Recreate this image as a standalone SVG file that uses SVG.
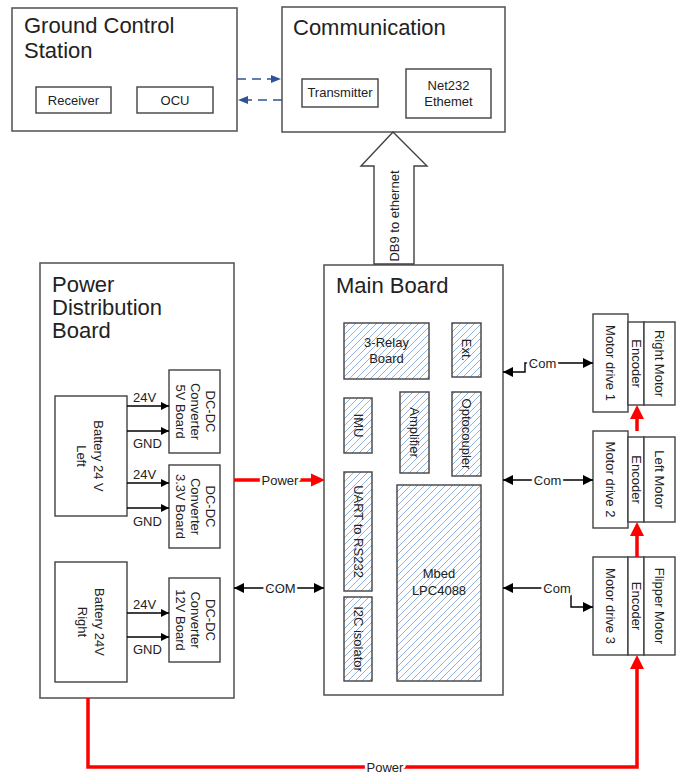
<svg xmlns="http://www.w3.org/2000/svg" width="679" height="774" viewBox="0 0 679 774">
<defs>
<pattern id="hatch" patternUnits="userSpaceOnUse" width="7" height="7">
<path d="M0,7 L7,0 M-1,1 L1,-1 M6,8 L8,6" stroke="#8fb2de" stroke-width="1"/>
</pattern>
<marker id="ah" viewBox="0 0 10 10" refX="10" refY="5" markerWidth="9" markerHeight="8" markerUnits="userSpaceOnUse" orient="auto-start-reverse"><path d="M0,0 L10,5 L0,10 z" fill="#000"/></marker>
<marker id="am" viewBox="0 0 10 10" refX="10" refY="5" markerWidth="11" markerHeight="10" markerUnits="userSpaceOnUse" orient="auto-start-reverse"><path d="M0,0 L10,5 L0,10 z" fill="#000"/></marker>
</defs>
<style>
text{font-family:"Liberation Sans",Arial,sans-serif;fill:#222}
.t{font-size:22px}
.s{font-size:13px}
.c{text-anchor:middle}
.r{text-anchor:middle;dominant-baseline:central}
.ob{fill:#fff;stroke:#5a5a5a;stroke-width:1.6}
.ib{fill:#fff;stroke:#404040;stroke-width:1.4}
.hb{fill:url(#hatch);stroke:#404040;stroke-width:1.4}
.bl{fill:none;stroke:#000;stroke-width:1.4}
.red{fill:none;stroke:#f00;stroke-width:3.5}
.lbl{stroke:#fff;stroke-width:5;paint-order:stroke;stroke-linejoin:round}
.dash{fill:none;stroke:#2f5496;stroke-width:1.5;stroke-dasharray:9,6}
</style>
<rect width="679" height="774" fill="#fff"/>

<g id="gcs">
<rect class="ob" x="12" y="8" width="225" height="123"/>
<text class="t" x="24" y="33">Ground Control</text>
<text class="t" x="24" y="58">Station</text>
<rect class="ib" x="36" y="87" width="75" height="26"/>
<text class="s c" x="73.5" y="105">Receiver</text>
<rect class="ib" x="137" y="87" width="76" height="26"/>
<text class="s c" x="175" y="105">OCU</text>
</g>

<g id="communication">
<rect class="ob" x="282" y="7" width="223" height="125"/>
<text class="t" x="293" y="35">Communication</text>
<rect class="ib" x="302" y="79" width="76" height="28"/>
<text class="s c" x="340" y="97">Transmitter</text>
<rect class="ib" x="406" y="69" width="85" height="49"/>
<text class="s c" x="448.5" y="90">Net232</text>
<text class="s c" x="448.5" y="106">Ethemet</text>
</g>

<g id="pdb">
<rect class="ob" x="40" y="263" width="194" height="435"/>
<text class="t" x="52" y="292">Power</text>
<text class="t" x="52" y="315">Distribution</text>
<text class="t" x="52" y="338">Board</text>
<g id="battery-left">
<rect class="ib" x="55" y="396" width="72" height="120"/>
<text class="s r" transform="translate(98,456) rotate(90)">Battery 24 V</text>
<text class="s r" transform="translate(81,456) rotate(90)">Left</text>
</g>
<g id="dcdc-5v">
<rect class="ib" x="169" y="370" width="51" height="83"/>
<text class="s r" transform="translate(210,411.5) rotate(90)">DC-DC</text>
<text class="s r" transform="translate(195,411.5) rotate(90)">Converter</text>
<text class="s r" transform="translate(180,411.5) rotate(90)">5V Board</text>
</g>
<g id="dcdc-33v">
<rect class="ib" x="169" y="465" width="51" height="83"/>
<text class="s r" transform="translate(210,506.5) rotate(90)">DC-DC</text>
<text class="s r" transform="translate(195,506.5) rotate(90)">Converter</text>
<text class="s r" transform="translate(180,506.5) rotate(90)">3.3V Board</text>
</g>
<g id="battery-right">
<rect class="ib" x="55" y="562" width="72" height="120"/>
<text class="s r" transform="translate(99,622) rotate(90)">Battery 24V</text>
<text class="s r" transform="translate(82,622) rotate(90)">Right</text>
</g>
<g id="dcdc-12v">
<rect class="ib" x="169" y="578" width="51" height="84"/>
<text class="s r" transform="translate(210,620) rotate(90)">DC-DC</text>
<text class="s r" transform="translate(195,620) rotate(90)">Converter</text>
<text class="s r" transform="translate(180,620) rotate(90)">12V Board</text>
</g>
</g>

<g id="mainboard">
<rect class="ob" x="324" y="265" width="179" height="430"/>
<text class="t" x="336" y="293">Main Board</text>
<g id="relay"><rect class="hb" x="344" y="323" width="85" height="56"/>
<text class="s c" x="386.5" y="347">3-Relay</text><text class="s c" x="386.5" y="363">Board</text></g>
<g id="ext"><rect class="hb" x="452" y="323" width="29" height="54"/>
<text class="s r" transform="translate(466.5,350) rotate(90)">Ext.</text></g>
<g id="imu"><rect class="hb" x="344" y="398" width="28" height="55"/>
<text class="s r" transform="translate(358,425.5) rotate(90)">IMU</text></g>
<g id="amplifier"><rect class="hb" x="400" y="392" width="29" height="81"/>
<text class="s r" transform="translate(414.5,432.5) rotate(90)">Amplifier</text></g>
<g id="optocoupler"><rect class="hb" x="452" y="392" width="29" height="84"/>
<text class="s r" transform="translate(466.5,434) rotate(90)">Optocoupler</text></g>
<g id="uart"><rect class="hb" x="344" y="472" width="28" height="119"/>
<text class="s r" transform="translate(358,531.5) rotate(90)">UART to RS232</text></g>
<g id="i2c"><rect class="hb" x="344" y="597" width="28" height="84"/>
<text class="s r" transform="translate(358,639) rotate(90)">I2C isolator</text></g>
<g id="mbed"><rect class="hb" x="397" y="485" width="84" height="196"/>
<text class="s c" x="439" y="578">Mbed</text><text class="s c" x="439" y="595">LPC4088</text></g>
</g>

<g id="motor1">
<rect class="ib" x="593" y="314" width="35" height="98"/>
<text class="s r" transform="translate(610.5,363) rotate(90)">Motor drive 1</text>
<rect class="ib" x="628" y="322" width="16" height="83"/>
<text class="s r" transform="translate(636,363.5) rotate(90)">Encoder</text>
<rect class="ib" x="644" y="322" width="31" height="83"/>
<text class="s r" transform="translate(659.5,363.5) rotate(90)">Right Motor</text>
</g>
<g id="motor2">
<rect class="ib" x="593" y="431" width="35" height="97"/>
<text class="s r" transform="translate(610.5,479.5) rotate(90)">Motor drive 2</text>
<rect class="ib" x="628" y="437" width="16" height="85"/>
<text class="s r" transform="translate(636,479.5) rotate(90)">Encoder</text>
<rect class="ib" x="644" y="437" width="31" height="85"/>
<text class="s r" transform="translate(659.5,479.5) rotate(90)">Left Motor</text>
</g>
<g id="motor3">
<rect class="ib" x="593" y="557" width="35" height="98"/>
<text class="s r" transform="translate(610.5,606) rotate(90)">Motor drive 3</text>
<rect class="ib" x="628" y="557" width="16" height="98"/>
<text class="s r" transform="translate(636,606) rotate(90)">Encoder</text>
<rect class="ib" x="644" y="557" width="31" height="98"/>
<text class="s r" transform="translate(659.5,606) rotate(90)">Flipper Motor</text>
</g>

<g id="connectors">
<line class="dash" x1="237" y1="79" x2="271" y2="79"/>
<polygon points="271,75 281,79 271,83" fill="#2f5496"/>
<line class="dash" x1="282" y1="100" x2="248" y2="100"/>
<polygon points="248,96 238,100 248,104" fill="#2f5496"/>
<polygon points="393,132 427,166 414,166 414,264 374,264 374,166 361,166" fill="#fff" stroke="#404040" stroke-width="1.4"/>
<text class="s r" transform="translate(394,216) rotate(-90)">DB9 to ethernet</text>
<line class="bl" x1="127" y1="406" x2="169" y2="406" marker-end="url(#ah)"/>
<line class="bl" x1="127" y1="431" x2="169" y2="431" marker-end="url(#ah)"/>
<line class="bl" x1="127" y1="483" x2="169" y2="483" marker-end="url(#ah)"/>
<line class="bl" x1="127" y1="508" x2="169" y2="508" marker-end="url(#ah)"/>
<line class="bl" x1="127" y1="613" x2="169" y2="613" marker-end="url(#ah)"/>
<line class="bl" x1="127" y1="637" x2="169" y2="637" marker-end="url(#ah)"/>
<text class="s" x="133" y="402">24V</text>
<text class="s" x="133" y="448">GND</text>
<text class="s" x="133" y="479">24V</text>
<text class="s" x="133" y="526">GND</text>
<text class="s" x="133" y="609">24V</text>
<text class="s" x="133" y="654">GND</text>
<line class="red" x1="234" y1="480" x2="311" y2="480"/>
<polygon points="311,473.5 325,480 311,486.5" fill="#f00"/>
<text class="s c lbl" x="280" y="485">Power</text>
<line class="bl" x1="234" y1="588" x2="324" y2="588" marker-start="url(#am)" marker-end="url(#am)"/>
<text class="s c lbl" x="280.5" y="593">COM</text>
<path class="bl" d="M503,372 H525 V363 H593" marker-start="url(#am)" marker-end="url(#am)"/>
<text class="s c lbl" x="542.5" y="368">Com</text>
<line class="bl" x1="503" y1="480" x2="593" y2="480" marker-start="url(#am)" marker-end="url(#am)"/>
<text class="s c lbl" x="547.5" y="485">Com</text>
<path class="bl" d="M503,588 H571 V607 H593" marker-start="url(#am)" marker-end="url(#am)"/>
<text class="s c lbl" x="557" y="593">Com</text>
<line class="red" x1="637" y1="431" x2="637" y2="418"/>
<polygon points="630,419 637,405 644,419" fill="#f00"/>
<line class="red" x1="637" y1="557" x2="637" y2="535"/>
<polygon points="630,536 637,522 644,536" fill="#f00"/>
<path class="red" d="M88,698 V767 H637 V668"/>
<polygon points="630,669 637,655 644,669" fill="#f00"/>
<text class="s c lbl" x="385" y="772">Power</text>
</g>
</svg>
